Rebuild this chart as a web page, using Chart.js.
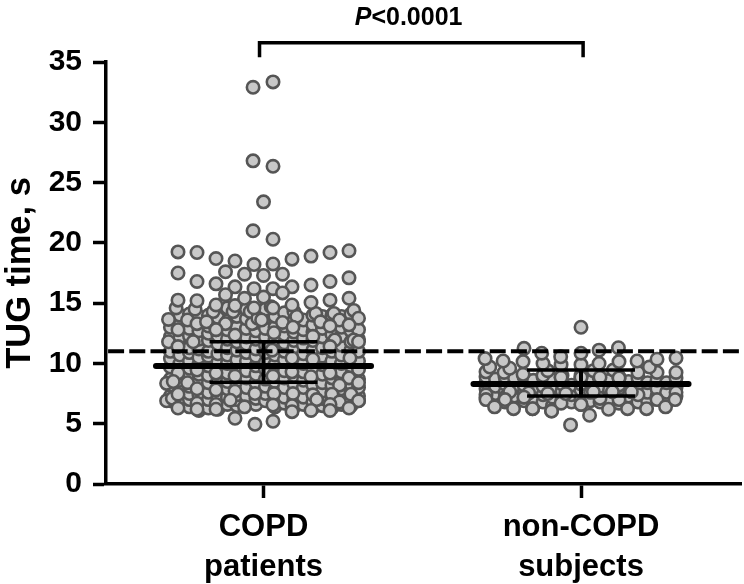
<!DOCTYPE html>
<html>
<head>
<meta charset="utf-8">
<script src="https://cdn.jsdelivr.net/npm/chart.js@4"></script>
<style>
html,body{margin:0;padding:0;background:#fff}
canvas{display:block}
</style>
</head>
<body>
<canvas id="c" width="744" height="584"></canvas>
<script>
// x values are swarm offsets from each group's centre, y values are seconds
const groupLabels = [['COPD', 'patients'], ['non-COPD', 'subjects']];
const yTicks = [0, 5, 10, 15, 20, 25, 30, 35];
const yTitle = 'TUG time, s';
const cutoff = 11;

const copdX = [
-4.9,-4.9,-4.9,-4.9,-4.9,-4.9,-4.9,-4.9,-4.9,
-4.4,-4.4,-4.4,-4.4,-4.4,-4.4,-4.4,-4.4,-4.4,-4.4,-4.4,
-3.9,-3.9,-3.9,-3.9,-3.9,-3.9,-3.9,-3.9,-3.9,-3.9,-3.9,-3.9,
-3.4,-3.4,-3.4,-3.4,-3.4,-3.4,-3.4,-3.4,-3.4,-3.4,-3.4,-3.4,
-2.9,-2.9,-2.9,-2.9,-2.9,-2.9,-2.9,-2.9,-2.9,-2.9,-2.9,-2.9,
-2.4,-2.4,-2.4,-2.4,-2.4,-2.4,-2.4,-2.4,-2.4,-2.4,-2.4,-2.4,
-1.9,-1.9,-1.9,-1.9,-1.9,-1.9,-1.9,-1.9,-1.9,-1.9,-1.9,-1.9,
-1.4,-1.4,-1.4,-1.4,-1.4,-1.4,-1.4,-1.4,-1.4,-1.4,-1.4,-1.4,-1.4,
-0.9,-0.9,-0.9,-0.9,-0.9,-0.9,-0.9,-0.9,-0.9,-0.9,-0.9,-0.9,
-0.4,-0.4,-0.4,-0.4,-0.4,-0.4,-0.4,-0.4,-0.4,-0.4,-0.4,-0.4,
0.1,0.1,0.1,0.1,0.1,0.1,0.1,0.1,0.1,0.1,0.1,0.1,
0.6,0.6,0.6,0.6,0.6,0.6,0.6,0.6,0.6,0.6,0.6,
1.1,1.1,1.1,1.1,1.1,1.1,1.1,1.1,1.1,1.1,1.1,
1.6,1.6,1.6,1.6,1.6,1.6,1.6,1.6,1.6,1.6,1.6,1.6,
2.1,2.1,2.1,2.1,2.1,2.1,2.1,2.1,2.1,2.1,2.1,
2.6,2.6,2.6,2.6,2.6,2.6,2.6,2.6,2.6,2.6,2.6,2.6,
3.1,3.1,3.1,3.1,3.1,3.1,3.1,3.1,3.1,3.1,3.1,
3.6,3.6,3.6,3.6,3.6,3.6,3.6,3.6,3.6,3.6,3.6,3.6,
4.1,4.1,4.1,4.1,4.1,4.1,4.1,4.1,4.1,4.1,4.1,
4.6,4.6,4.6,4.6,4.6,4.6,4.6,4.6,4.6,4.6,4.6,4.6,
5,5,5,5,5,5,5,5,5,
-4.6,-3.6,-2.65,-1.6,-0.7,0.4,1.75,2.75,3.7,4.75,
-5,-4,-3.5,-3,-2.5,-2,-0.6,-0.3,-0.1,1,1.55,3,4,5,
-4.5,-2.5,-1.5,0.55,2.6,3.5,4.5,
-5,-3.7,-4.5,3.75,4.75,5,3.5,0.45,1.5,2.6,4.55,
-4.5,-3.5,-2.5,-1.5,0.5,1.5,2.5,3.5,4.5,5,4,
-5.1,-4.75,-4,-3.5,-2.5,-1.5,-0.45,0.55,1.55,2.6,3.6,4.6,
-5.1,-4.8,-4.5,-1.75,-1,2.8,4,5,
-4.5,-3.5,-3.5,-2.5,-2.5,0.5,1.5,1.5,2.5,3.5,3.5,4.5,
-1.5,-0.45,0.5,
-4.5,-3.5,-2.5,-1.5,-0.5,0.5,1.5,2.5,3.5,4.5,
-4.5,-3.5,-2.5,-1.5,-0.5,0.5,1.5,2.5,3.5,4.5,
-2,-1,0,1,-2,-1,0,1
];
const copdY = [
6.9,7.3,8.2,8.7,9.7,10.4,11.0,12.2,13.0,
6.6,7.1,7.8,8.6,9.4,10.0,10.7,11.5,12.2,13.2,14.0,
6.4,7.0,7.5,8.1,8.9,9.6,10.2,10.9,11.3,12.3,12.9,14.1,
6.1,6.8,7.4,8.0,8.7,9.1,9.9,10.5,11.2,12.0,12.7,13.9,
6.3,7.0,7.6,8.4,9.0,9.8,10.6,11.0,11.9,12.5,13.1,14.0,
6.2,6.7,7.3,8.1,8.6,9.3,10.1,10.8,11.6,12.3,13.0,13.8,
6.6,7.2,7.9,8.5,9.2,10.0,10.7,11.3,12.0,12.8,13.5,14.6,
6.5,7.0,7.4,8.2,8.9,9.5,10.3,11.1,11.8,12.5,13.0,13.9,14.6,
6.8,7.3,8.0,8.8,9.4,10.2,10.9,11.6,12.2,12.9,13.7,14.5,
6.6,7.1,7.7,8.4,9.1,9.8,10.6,11.2,12.0,12.7,13.4,14.1,
6.9,7.5,8.1,8.7,9.5,10.1,10.9,11.5,12.2,12.9,13.8,14.5,
6.4,7.0,7.8,8.5,9.2,9.9,10.7,11.3,12.0,13.0,13.9,
6.7,7.2,8.0,8.8,9.4,10.3,11.0,11.7,12.4,13.1,14.2,
6.4,7.0,7.6,8.3,9.0,9.8,10.6,11.3,11.9,12.6,13.5,14.3,
6.6,7.2,8.0,8.6,9.3,10.0,10.8,11.5,12.1,12.8,13.6,
6.3,6.8,7.5,8.2,8.9,9.6,10.4,11.1,11.9,12.6,13.2,14.0,
6.5,7.1,7.7,8.4,9.1,9.9,10.6,11.3,12.2,12.9,13.9,
6.3,6.9,7.6,8.2,8.8,9.6,10.2,11.0,11.7,12.4,13.5,14.0,
6.6,7.2,7.9,8.6,9.3,10.0,10.7,11.5,12.3,13.0,13.9,
6.5,7.0,7.7,8.3,9.0,9.8,10.4,11.1,11.8,12.7,13.4,14.1,
6.9,7.3,8.0,8.7,9.5,10.2,11.0,12.0,12.8,
14.6,14.5,14.3,14.3,14.3,14.7,13.9,14.15,14.15,14.4,
13.65,13.6,13.3,13.45,12.8,13.3,13.3,13.75,13.6,13.4,13.0,13.45,13.6,13.75,
12.8,12.8,12.35,12.55,12.25,13.1,13.2,
11.8,11.8,11.4,11.95,11.95,11.8,11.4,11.1,10.45,10.35,10.45,
9.2,9.45,9.2,8.95,8.95,9.3,8.9,9.2,8.8,8.4,8.2,
8.35,8.5,8.4,7.9,7.8,7.7,7.5,7.5,7.5,7.4,7.45,7.45,
6.9,7.1,7.45,6.95,6.4,7.0,6.8,6.9,
6.3,6.7,6.2,6.6,6.2,6.55,6.5,6.0,6.1,6.6,6.1,6.3,
5.45,4.95,5.2,
15.25,15.2,14.85,14.8,14.6,14.6,14.85,15.05,15.25,15.4,
17.5,16.8,16.6,16.35,16.2,16.2,16.35,16.5,16.8,17.1,
17.6,17.4,17.3,17.4,15.7,15.4,15.5,15.85
];
// top of the COPD swarm, the loose points in the upper rows
const copdHighX = [-4.5,-3.5,-2.5,-1.5,1.5,2.5,3.5,4.5,-0.5,0.5,-0.55,0.5,0,-0.55,0.5,-0.55,0.5];
const copdHighY = [19.25,19.2,18.7,18.5,18.65,18.9,19.2,19.35,18.2,18.25,21,20.3,23.4,32.9,33.35,26.8,26.35];

const nonCopdX = [
-5,-5,-5,-5,-4.5,-4.5,-4.5,-4.5,-4,-4,-4,-4,-3.5,-3.5,-3.5,-3.5,
-3,-3,-3,-3,-2.5,-2.5,-2.5,-2.5,-2,-2,-2,-2,-1.5,-1.5,-1.5,-1.5,
-1,-1,-1,-1,-0.5,-0.5,-0.5,0,0,0,0,0.5,0.5,0.5,1,1,1,1,1.5,1.5,1.5,
2,2,2,2,2.5,2.5,2.5,3,3,3,3,3.5,3.5,3.5,4,4,4,4.5,4.5,4.5,5,5,5,
-5,-4,-3,-2.55,-1.55,-1.05,0,1,2,3,4,5,
-3.75,-2.75,-1.75,-0.8,0.65,1.65,2.65,
-3,-4,-5,
-4.55,-3.55,-2.55,-1.55,0,0.45,-0.55,1.45,2.45,3.45,4.45,4.95,
-5,-4.05,-3.05,-2,-1.05,0,0.95,2,3,4,5,-4.8,-3.75,3.6,-1.75,0.65,1.7,-1.05,0,1,2,
-5.05,-4.1,-3.05,-2,-1.05,0,0.95,2,2.95,4,5,
-3,-2.07,-1.07,0,0.95,1.97,0
];
const nonCopdY = [
7.2,7.9,8.4,8.9,6.9,7.5,8.1,8.7,6.8,7.6,8.3,8.9,6.7,7.3,8.0,8.8,
6.9,7.6,8.2,8.9,6.6,7.1,7.9,8.6,6.8,7.4,8.1,8.9,6.5,7.2,7.9,8.7,
7.0,7.7,8.3,9.0,6.8,7.4,8.2,7.1,7.8,8.3,9.0,6.9,7.6,8.5,6.8,7.5,8.1,8.8,7.0,7.8,8.6,
6.7,7.5,8.2,8.9,6.8,7.3,8.5,6.8,7.7,8.3,8.8,6.9,7.6,8.4,7.3,7.9,8.6,6.8,7.6,8.4,7.3,8.0,8.8,
7.4,7.2,7.2,6.25,6.05,6.7,6.6,7.1,7.0,7.4,7.0,7.6,
7.65,7.55,7.5,7.5,7.65,7.65,7.65,
7.2,7.0,7.0,
6.4,6.25,6.25,6.05,6.6,5.7,4.9,6.2,6.25,6.25,6.4,7.0,
9.3,9.25,9.1,9.0,8.85,8.85,8.85,8.8,9.25,9.25,9.25,9.7,9.6,9.7,9.4,9.4,9.45,8.85,8.85,8.85,8.8,
10.4,10.2,10.15,10.0,9.9,9.9,10.0,10.15,10.2,10.35,10.45,
11.25,10.85,10.55,10.85,11.1,11.3,13.0
];

const copdMean = 9.78, copdSdHigh = 11.8, copdSdLow = 8.43;
const nonCopdMean = 8.3, nonCopdSdHigh = 9.45, nonCopdSdLow = 7.3;
const bracketX = [-0.21, -0.21, 16.82, 16.82];
const bracketY = [35.4, 36.6, 36.6, 35.4];

const centre2 = 16.71;
const meanHalf = 5.66, sdHalf = 2.84;

function toPoints(xs, ys, shift){
    return xs.map((x, i) => ({x: x + shift, y: ys[i]}));
}
function lineSet(points, width, extra){
    return Object.assign({
        type: 'scatter', data: points, showLine: true, pointRadius: 0,
        borderColor: '#000', borderWidth: width, clip: false, fill: false
    }, extra || {});
}
function dotSet(points){
    return {
        type: 'scatter', data: points, pointRadius: 6.2, pointBorderWidth: 2.6,
        pointBackgroundColor: '#c8c8c8', pointBorderColor: '#555', clip: false, order: 5
    };
}
function groupLines(c, mean, hi, lo){
    return [
        lineSet([{x: c - meanHalf, y: mean}, {x: c + meanHalf, y: mean}], 6, {borderCapStyle: 'round', order: 1}),
        lineSet([{x: c - sdHalf, y: hi}, {x: c + sdHalf, y: hi}], 3.5, {order: 1}),
        lineSet([{x: c - sdHalf, y: lo}, {x: c + sdHalf, y: lo}], 3.5, {order: 1}),
        lineSet([{x: c, y: lo}, {x: c, y: hi}], 4, {order: 1})
    ];
}

// the P value has an italic P, so it is drawn in two pieces
const pLabel = {
    id: 'pLabel',
    afterDraw(chart){
        const ctx = chart.ctx;
        const x = chart.scales.x.getPixelForValue(4.8);
        const y = chart.scales.y.getPixelForValue(38.07);
        ctx.save();
        ctx.fillStyle = '#000';
        ctx.textBaseline = 'alphabetic';
        ctx.font = 'italic bold 25px "Liberation Sans"';
        ctx.fillText('P', x, y);
        const w = ctx.measureText('P').width;
        ctx.font = 'bold 25px "Liberation Sans"';
        ctx.fillText('<0.0001', x + w, y);
        ctx.restore();
    }
};

new Chart(document.getElementById('c').getContext('2d'), {
    data: {
        datasets: [
            ...groupLines(0, copdMean, copdSdHigh, copdSdLow),
            ...groupLines(centre2, nonCopdMean, nonCopdSdHigh, nonCopdSdLow),
            lineSet([{x: -8.18, y: cutoff}, {x: 25.13, y: cutoff}], 4, {borderDash: [16, 5.2], order: 2}),
            lineSet(toPoints(bracketX, bracketY, 0), 3.5, {order: 1, borderJoinStyle: 'miter'}),
            dotSet(toPoints(copdHighX, copdHighY, 0)),
            dotSet(toPoints(copdX, copdY, 0)),
            dotSet(toPoints(nonCopdX, nonCopdY, centre2))
        ]
    },
    plugins: [pLabel],
    options: {
        responsive: false,
        animation: false,
        layout: {autoPadding: false, padding: {top: 62, right: 3, left: 0, bottom: 0}},
        plugins: {legend: {display: false}, tooltip: {enabled: false}},
        scales: {
            x: {
                type: 'linear', min: -8.29, max: 25.13,
                afterBuildTicks: s => { s.ticks = [{value: 0}, {value: centre2}]; },
                afterFit: s => { s.height = 100; s.paddingLeft = 0; s.paddingRight = 0; },
                border: {color: '#000', width: 3.5},
                grid: {drawOnChartArea: false, tickLength: 14, tickWidth: 3.5, tickColor: '#000'},
                ticks: {
                    autoSkip: false, maxRotation: 0, padding: 9, color: '#000',
                    font: {family: '"Liberation Sans"', weight: 'bold', size: 31, lineHeight: 1.3},
                    callback: v => v === 0 ? groupLabels[0] : groupLabels[1]
                }
            },
            y: {
                type: 'linear', min: 0, max: 35,
                afterBuildTicks: s => { s.ticks = yTicks.map(v => ({value: v})); },
                afterFit: s => { s.width = 106; },
                border: {color: '#000', width: 3.5},
                grid: {drawOnChartArea: false, tickLength: 13, tickWidth: 3.5, tickColor: '#000'},
                ticks: {
                    padding: 11, color: '#000',
                    font: {family: '"Liberation Sans"', weight: 'bold', size: 30}
                },
                title: {
                    display: true, text: yTitle, color: '#000', padding: 0,
                    font: {family: '"Liberation Sans"', weight: 'bold', size: 34.5}
                }
            }
        }
    }
});
</script>
</body>
</html>
